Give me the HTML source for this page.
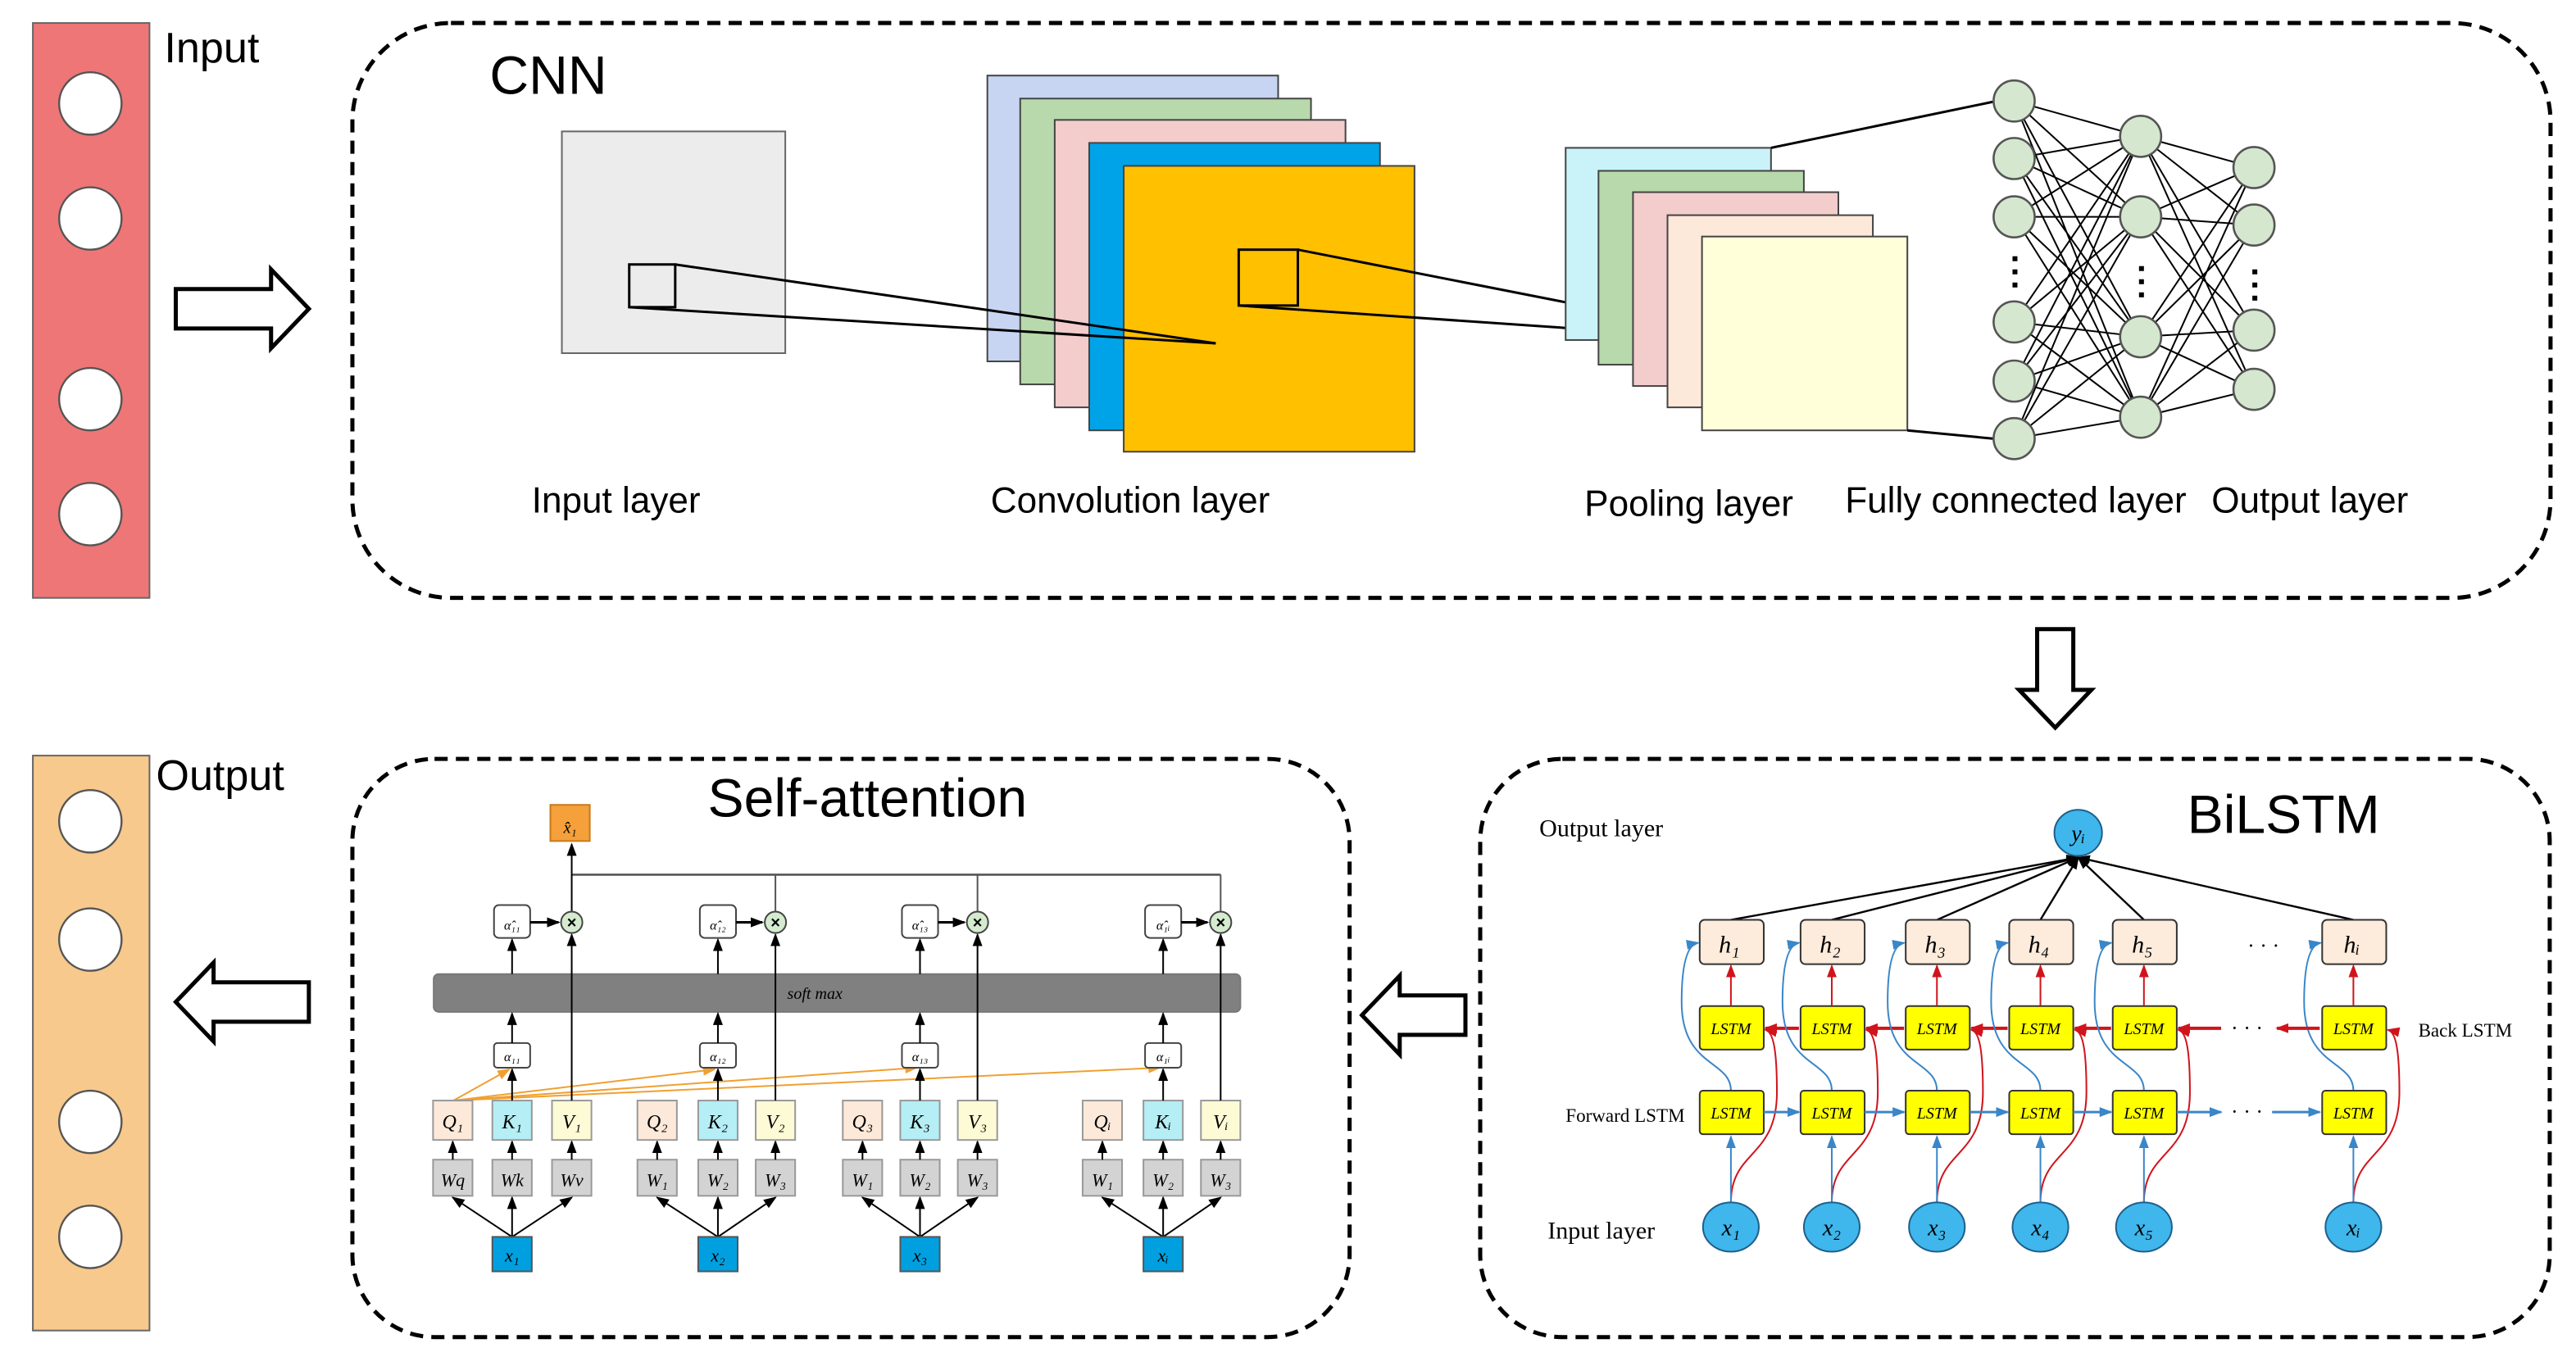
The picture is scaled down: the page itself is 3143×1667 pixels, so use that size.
<!DOCTYPE html>
<html><head><meta charset="utf-8"><style>html,body{margin:0;padding:0;background:#fff}svg{display:block}</style></head><body>
<svg xmlns="http://www.w3.org/2000/svg" width="3143" height="1667" viewBox="0 0 1568 831.6" preserveAspectRatio="none">
<defs>
<marker id="ak" markerWidth="8" markerHeight="8" refX="7" refY="4" orient="auto" markerUnits="userSpaceOnUse"><path d="M0,1 L8,4 L0,7 Z" fill="#000"/></marker>
<marker id="ab" markerWidth="8" markerHeight="8" refX="7" refY="4" orient="auto" markerUnits="userSpaceOnUse"><path d="M0,1 L8,4 L0,7 Z" fill="#3a86c8"/></marker>
<marker id="ar" markerWidth="8" markerHeight="8" refX="7" refY="4" orient="auto" markerUnits="userSpaceOnUse"><path d="M0,1 L8,4 L0,7 Z" fill="#d0141c"/></marker>
<marker id="ao" markerWidth="8" markerHeight="8" refX="7" refY="4" orient="auto" markerUnits="userSpaceOnUse"><path d="M0,1 L8,4 L0,7 Z" fill="#f0a030"/></marker>
</defs>
<g font-family="Liberation Sans, sans-serif">
<rect x="20" y="14" width="71" height="350" fill="#ef7676" stroke="#666" stroke-width="1"/>
<g fill="#fff" stroke="#555" stroke-width="1.2"><circle cx="55" cy="63" r="19"/><circle cx="55" cy="133" r="19"/><circle cx="55" cy="243" r="19"/><circle cx="55" cy="313" r="19"/></g>
<text x="100" y="38" font-size="26">Input</text>
<path d="M107,176 H165 V164 L188,188 L165,212 V200 H107 Z" fill="#fff" stroke="#000" stroke-width="2.5"/>
<rect x="214.5" y="14" width="1338" height="350" rx="60" fill="none" stroke="#000" stroke-width="2.5" stroke-dasharray="8,5"/>
<text x="298" y="57" font-size="33">CNN</text>
<rect x="342" y="80" width="136" height="135" fill="#ececec" stroke="#666"/>
<rect x="383" y="161" width="28" height="26" fill="none" stroke="#000" stroke-width="1.5"/>
<g stroke="#444" stroke-width="1">
<rect x="601" y="46" width="177" height="174" fill="#c7d5f3"/>
<rect x="621" y="60" width="177" height="174" fill="#b8d9ab"/>
<rect x="642" y="73" width="177" height="175" fill="#f3cccc"/>
<rect x="663" y="87" width="177" height="175" fill="#00a3e8"/>
<rect x="684" y="101" width="177" height="174" fill="#ffc000"/>
</g>
<g stroke="#000" stroke-width="1.5" fill="none">
<line x1="411" y1="161" x2="740" y2="209"/><line x1="383" y1="187" x2="740" y2="209"/>
<rect x="754" y="152" width="36" height="34"/>
<line x1="790" y1="152" x2="1075" y2="208"/><line x1="754" y1="186" x2="1075" y2="208"/>
</g>
<g stroke="#444" stroke-width="1">
<rect x="953" y="90" width="125" height="117" fill="#c9f3f8"/>
<rect x="973" y="104" width="125" height="118" fill="#b8d9ab"/>
<rect x="994" y="117" width="125" height="118" fill="#f3cccc"/>
<rect x="1015" y="131" width="125" height="117" fill="#fde9d9"/>
<rect x="1036" y="144" width="125" height="118" fill="#ffffd9"/>
</g>
<g stroke="#000" stroke-width="1.5"><line x1="1078" y1="90" x2="1213" y2="62"/><line x1="1161" y1="262" x2="1213" y2="267"/></g>
<g stroke="#000" stroke-width="1">
<path d="M1226,61.5 L1303,83 M1226,61.5 L1303,132 M1226,61.5 L1303,205 M1226,61.5 L1303,254
M1226,96.5 L1303,83 M1226,96.5 L1303,132 M1226,96.5 L1303,205 M1226,96.5 L1303,254
M1226,132 L1303,83 M1226,132 L1303,132 M1226,132 L1303,205 M1226,132 L1303,254
M1226,196 L1303,83 M1226,196 L1303,132 M1226,196 L1303,205 M1226,196 L1303,254
M1226,232 L1303,83 M1226,232 L1303,132 M1226,232 L1303,205 M1226,232 L1303,254
M1226,267 L1303,83 M1226,267 L1303,132 M1226,267 L1303,205 M1226,267 L1303,254
M1303,83 L1372,102 M1303,83 L1372,137 M1303,83 L1372,201 M1303,83 L1372,237
M1303,132 L1372,102 M1303,132 L1372,137 M1303,132 L1372,201 M1303,132 L1372,237
M1303,205 L1372,102 M1303,205 L1372,137 M1303,205 L1372,201 M1303,205 L1372,237
M1303,254 L1372,102 M1303,254 L1372,137 M1303,254 L1372,201 M1303,254 L1372,237"/>
</g>
<g fill="#d5e8cf" stroke="#555" stroke-width="1.3">
<circle cx="1226" cy="61.5" r="12.5"/><circle cx="1226" cy="96.5" r="12.5"/><circle cx="1226" cy="132" r="12.5"/><circle cx="1226" cy="196" r="12.5"/><circle cx="1226" cy="232" r="12.5"/><circle cx="1226" cy="267" r="12.5"/>
<circle cx="1303" cy="83" r="12.5"/><circle cx="1303" cy="132" r="12.5"/><circle cx="1303" cy="205" r="12.5"/><circle cx="1303" cy="254" r="12.5"/>
<circle cx="1372" cy="102" r="12.5"/><circle cx="1372" cy="137" r="12.5"/><circle cx="1372" cy="201" r="12.5"/><circle cx="1372" cy="237" r="12.5"/>
</g>
<g fill="#000"><rect x="1225" y="156" width="3" height="3"/><rect x="1225" y="164" width="3" height="3"/><rect x="1225" y="172" width="3" height="3"/>
<rect x="1302" y="162" width="3" height="3"/><rect x="1302" y="170" width="3" height="3"/><rect x="1302" y="178" width="3" height="3"/>
<rect x="1371" y="164" width="3" height="3"/><rect x="1371" y="172" width="3" height="3"/><rect x="1371" y="180" width="3" height="3"/></g>
<g font-size="22" text-anchor="middle">
<text x="375" y="312">Input layer</text><text x="688" y="312">Convolution layer</text><text x="1028" y="314">Pooling layer</text><text x="1227" y="312">Fully connected layer</text><text x="1406" y="312">Output layer</text>
</g>
<path d="M1240,383 H1262 V420 H1273 L1251,443 L1229,420 H1240 Z" fill="#fff" stroke="#000" stroke-width="2.5"/>
<rect x="20" y="460" width="71" height="350" fill="#f8c98c" stroke="#666" stroke-width="1"/>
<g fill="#fff" stroke="#555" stroke-width="1.2"><circle cx="55" cy="500" r="19"/><circle cx="55" cy="572" r="19"/><circle cx="55" cy="683" r="19"/><circle cx="55" cy="753" r="19"/></g>
<text x="95" y="481" font-size="26">Output</text>
<path d="M188,598 H130 V586 L107,610 L130,634 V622 H188 Z" fill="#fff" stroke="#000" stroke-width="2.5"/>
<path d="M892,606 H852 V594 L829,618 L852,642 V630 H892 Z" fill="#fff" stroke="#000" stroke-width="2.5"/>
<rect x="214.5" y="462" width="607" height="352" rx="50" fill="none" stroke="#000" stroke-width="2.5" stroke-dasharray="8,5"/>
<text x="528" y="497" font-size="33" text-anchor="middle">Self-attention</text>
<rect x="901" y="462" width="651" height="352" rx="50" fill="none" stroke="#000" stroke-width="2.5" stroke-dasharray="8,5"/>
<text x="1390" y="507" font-size="33" text-anchor="middle">BiLSTM</text>
</g>

<g font-family="Liberation Serif, serif" font-style="italic">
<line x1="348" y1="532.5" x2="743" y2="532.5" stroke="#555" stroke-width="1.3"/>
<line x1="348" y1="555" x2="348" y2="514" stroke="#000" stroke-width="1" marker-end="url(#ak)"/>
<rect x="335" y="490" width="24" height="22" fill="#f5a03a" stroke="#c77a1c"/>
<text x="347" y="507" font-size="10" text-anchor="middle">x̂₁</text>
<rect x="264" y="593" width="491" height="23" rx="3" fill="#808080" stroke="#777"/>
<text x="496" y="608" font-size="10" text-anchor="middle">soft max</text>
<g stroke="#f0a030" stroke-width="1" fill="none">
<line x1="276" y1="670" x2="310" y2="651" marker-end="url(#ao)"/>
<line x1="276" y1="670" x2="435" y2="651" marker-end="url(#ao)"/>
<line x1="276" y1="670" x2="558" y2="650" marker-end="url(#ao)"/>
<line x1="276" y1="670" x2="706" y2="650" marker-end="url(#ao)"/>
</g>
</g>
<g id="sa" font-family="Liberation Serif, serif" font-style="italic" font-size="11" text-anchor="middle"></g>

<g font-family="Liberation Serif, serif" fill="#000">
<text x="937" y="509" font-size="15">Output layer</text>
<text x="942" y="754" font-size="15">Input layer</text>
<text x="953" y="683" font-size="11.5">Forward LSTM</text>
<text x="1472" y="631" font-size="11.5">Back LSTM</text>
<text x="1368" y="580" font-size="13">· · ·</text>
</g>
<g id="bl"></g>

<script>
(function(){
var NS="http://www.w3.org/2000/svg";
function el(p,t,a,txt){var e=document.createElementNS(NS,t);for(var k in a)e.setAttribute(k,a[k]);if(txt!=null)e.textContent=txt;p.appendChild(e);return e;}
var sa=document.getElementById('sa');
var cols=[[275.6,311.7,348,'x₁',['Q₁','K₁','V₁'],['Wq','Wk','Wv'],'α₁₁'],[400,437,472,'x₂',['Q₂','K₂','V₂'],['W₁','W₂','W₃'],'α₁₂'],[525,560,595,'x₃',['Q₃','K₃','V₃'],['W₁','W₂','W₃'],'α₁₃'],[671,708,743,'xᵢ',['Qᵢ','Kᵢ','Vᵢ'],['W₁','W₂','W₃'],'α₁ᵢ']];
cols.forEach(function(c,i){
 var q=c[0],k=c[1],v=c[2];
 [q,k,v].forEach(function(x){el(sa,'line',{x1:k,y1:753,x2:x,y2:729,stroke:'#000','stroke-width':1,'marker-end':'url(#ak)'});});
 el(sa,'rect',{x:k-12,y:753,width:24,height:21,fill:'#00a0e0',stroke:'#555'});
 el(sa,'text',{x:k,y:768},c[3]);
 var fills=['#fde9d9','#b5eef5','#fdfbd5'];
 [q,k,v].forEach(function(x,j){
  el(sa,'rect',{x:x-12,y:706,width:24,height:22,fill:'#d3d3d3',stroke:'#999'});
  el(sa,'text',{x:x,y:722},c[5][j]);
  el(sa,'line',{x1:x,y1:706,x2:x,y2:695,stroke:'#000','stroke-width':1,'marker-end':'url(#ak)'});
  el(sa,'rect',{x:x-12,y:670,width:24,height:24,fill:fills[j],stroke:'#999'});
  el(sa,'text',{x:x,y:687,'font-size':12},c[4][j]);
 });
 el(sa,'line',{x1:k,y1:670,x2:k,y2:651,stroke:'#000','stroke-width':1,'marker-end':'url(#ak)'});
 el(sa,'rect',{x:k-11,y:635,width:22,height:15,rx:2,fill:'#fff',stroke:'#444'});
 el(sa,'text',{x:k,y:646,'font-size':8},c[6]);
 el(sa,'line',{x1:k,y1:635,x2:k,y2:617,stroke:'#000','stroke-width':1,'marker-end':'url(#ak)'});
 el(sa,'line',{x1:k,y1:593,x2:k,y2:572,stroke:'#000','stroke-width':1,'marker-end':'url(#ak)'});
 el(sa,'rect',{x:k-11,y:551,width:22,height:20,rx:3,fill:'#fff',stroke:'#444'});
 el(sa,'text',{x:k,y:566,'font-size':8},'α̂'+c[6].slice(1));
 el(sa,'line',{x1:k+11,y1:561.5,x2:v-8,y2:561.5,stroke:'#000','stroke-width':1.5,'marker-end':'url(#ak)'});
 el(sa,'line',{x1:v,y1:670,x2:v,y2:569,stroke:'#000','stroke-width':1,'marker-end':'url(#ak)'});
 if(i>0)el(sa,'line',{x1:v,y1:555,x2:v,y2:532.5,stroke:'#555','stroke-width':1});
 el(sa,'circle',{cx:v,cy:561.5,r:6.5,fill:'#d5ebd0',stroke:'#444'});
 el(sa,'text',{x:v,y:565,'font-size':10,'font-style':'normal','font-weight':'bold','font-family':'Liberation Sans, sans-serif'},'×');
});
var bl=document.getElementById('bl');
var cx=[1053.6,1115,1179,1242,1305,1432.5];
var hs=['h₁','h₂','h₃','h₄','h₅','hᵢ'],xs=['x₁','x₂','x₃','x₄','x₅','xᵢ'];
cx.forEach(function(x,i){
 el(bl,'line',{x1:x,y1:560,x2:1265,y2:522,stroke:'#000','stroke-width':1.2,'marker-end':'url(#ak)'});
 el(bl,'path',{d:'M'+x+',732 C'+x+',700 '+(x+28)+',705 '+(x+28)+',665 C'+(x+28)+',640 '+(x+26)+',628 '+(x+21)+',627',fill:'none',stroke:'#d0141c','stroke-width':1,'marker-end':'url(#ar)'});
 el(bl,'path',{d:'M'+x+',664 C'+x+',645 '+(x-30)+',650 '+(x-30)+',610 C'+(x-30)+',585 '+(x-26)+',575 '+(x-20)+',574',fill:'none',stroke:'#3a86c8','stroke-width':1,'marker-end':'url(#ab)'});
 el(bl,'line',{x1:x,y1:732,x2:x,y2:692,stroke:'#3a86c8','stroke-width':1,'marker-end':'url(#ab)'});
 el(bl,'line',{x1:x,y1:612,x2:x,y2:588,stroke:'#d0141c','stroke-width':1,'marker-end':'url(#ar)'});
 el(bl,'rect',{x:x-19,y:560,width:39,height:27,rx:3,fill:'#fdebdb',stroke:'#333'});
 el(bl,'text',{x:x-1,y:580,'font-family':'Liberation Serif, serif','font-style':'italic','font-size':15,'text-anchor':'middle'},hs[i]);
 [612.5,664].forEach(function(y){
  el(bl,'rect',{x:x-19,y:y,width:39,height:26.5,rx:2,fill:'#ffff00',stroke:'#333'});
  el(bl,'text',{x:x,y:y+17,'font-family':'Liberation Serif, serif','font-style':'italic','font-size':10,'text-anchor':'middle'},'LSTM');
 });
 el(bl,'ellipse',{cx:x,cy:747,rx:17,ry:15,fill:'#3fb6ec',stroke:'#1e5f8a'});
 el(bl,'text',{x:x,y:752,'font-family':'Liberation Serif, serif','font-style':'italic','font-size':14,'text-anchor':'middle'},xs[i]);
 if(i<4){
  el(bl,'line',{x1:x+20,y1:677,x2:cx[i+1]-20,y2:677,stroke:'#3a86c8','stroke-width':1.5,'marker-end':'url(#ab)'});
  el(bl,'line',{x1:cx[i+1]-20,y1:626,x2:x+21,y2:626,stroke:'#d0141c','stroke-width':2,'marker-end':'url(#ar)'});
 }
});
el(bl,'line',{x1:1325,y1:677,x2:1352,y2:677,stroke:'#3a86c8','stroke-width':1.5,'marker-end':'url(#ab)'});
el(bl,'line',{x1:1383,y1:677,x2:1412,y2:677,stroke:'#3a86c8','stroke-width':1.5,'marker-end':'url(#ab)'});
el(bl,'line',{x1:1352,y1:626,x2:1326,y2:626,stroke:'#d0141c','stroke-width':2,'marker-end':'url(#ar)'});
el(bl,'line',{x1:1412,y1:626,x2:1386,y2:626,stroke:'#d0141c','stroke-width':2,'marker-end':'url(#ar)'});
el(bl,'text',{x:1358,y:630,'font-size':13},'· · ·');
el(bl,'text',{x:1358,y:681,'font-size':13},'· · ·');
el(bl,'ellipse',{cx:1265,cy:507,rx:14.5,ry:14,fill:'#3fb6ec',stroke:'#1e5f8a'});
el(bl,'text',{x:1265,y:512,'font-family':'Liberation Serif, serif','font-style':'italic','font-size':14,'text-anchor':'middle'},'yᵢ');
})();
</script>
</svg>
</body></html>
